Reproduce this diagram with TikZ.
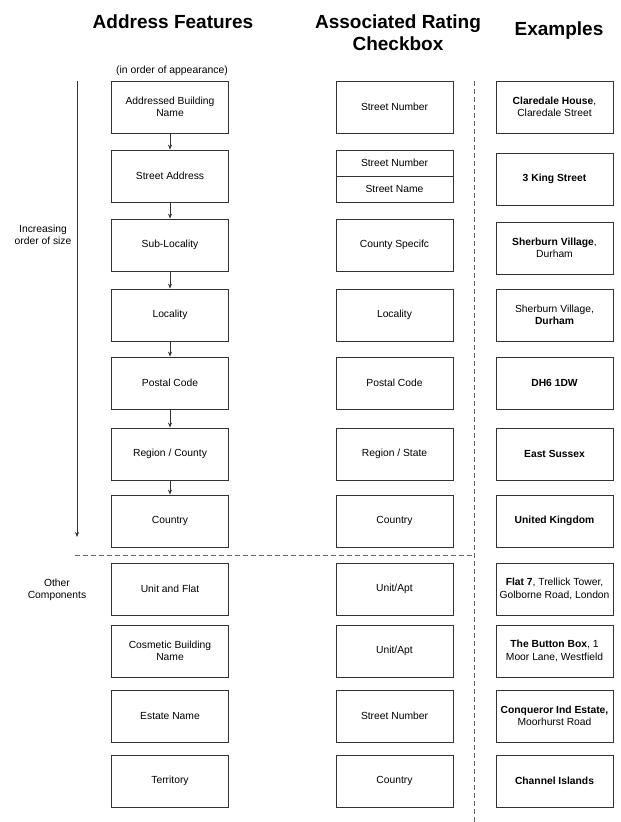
\documentclass[tikz,border=0pt]{standalone}
\usepackage{fontspec}
\setmainfont{Liberation Sans}
\usetikzlibrary{arrows.meta}
\definecolor{ln}{HTML}{333333}
\tikzset{
  fbox/.style={draw=ln, line width=0.8pt, minimum width=117pt, minimum height=52pt, align=center, font=\fontsize{10.3}{12.5}\selectfont, inner sep=2pt},
  ttl/.style={font=\fontsize{19}{22}\selectfont\bfseries, align=center},
  lbl/.style={font=\fontsize{10.3}{12.5}\selectfont, align=center},
  flow/.style={draw=ln, line width=0.7pt, -{Stealth[length=5pt,width=4pt]}},
  sep/.style={draw=gray!80!black, line width=0.8pt, dash pattern=on 5pt off 3pt}
}
\begin{document}
\begin{tikzpicture}[x=1pt,y=-1pt]
\useasboundingbox (0,0) rectangle (621,822);
% titles
\node[ttl] (t1) at (173,22) {Address Features};
\node[ttl] (t2) at (398,33) {Associated Rating\\Checkbox};
\node[ttl] (t3) at (559,31) {Examples};
\node[font=\fontsize{10.4}{12}\selectfont] (sub) at (172,71) {(in order of appearance)};
% side labels
\node[lbl] (inc) at (43,235) {Increasing\\order of size};
\node[lbl] (oth) at (57,590) {Other\\Components};
% left column
\node[fbox] (a1) at (170,107) {Addressed Building\\Name};
\node[fbox] (a2) at (170,176) {Street Address};
\node[fbox] (a3) at (170,245) {Sub-Locality};
\node[fbox] (a4) at (170,315) {Locality};
\node[fbox] (a5) at (170,383) {Postal Code};
\node[fbox] (a6) at (170,454) {Region / County};
\node[fbox] (a7) at (170,521) {Country};
\node[fbox] (a8) at (170,589) {Unit and Flat};
\node[fbox] (a9) at (170,651) {Cosmetic Building\\Name};
\node[fbox] (a10) at (170,716) {Estate Name};
\node[fbox] (a11) at (170,781) {Territory};
\foreach \i/\j in {a1/a2,a2/a3,a3/a4,a4/a5,a5/a6,a6/a7}
  \draw[flow] (\i.south) -- (\j.north);
% middle column
\node[fbox] (b1) at (394.5,107) {Street Number};
\node[fbox, minimum height=26pt] (b2a) at (394.5,163) {Street Number};
\node[fbox, minimum height=26pt] (b2b) at (394.5,189) {Street Name};
\node[fbox] (b3) at (394.5,245) {County Specifc};
\node[fbox] (b4) at (394.5,315) {Locality};
\node[fbox] (b5) at (394.5,383) {Postal Code};
\node[fbox] (b6) at (394.5,454) {Region / State};
\node[fbox] (b7) at (394.5,521) {Country};
\node[fbox] (b8) at (394.5,589) {Unit/Apt};
\node[fbox] (b9) at (394.5,651) {Unit/Apt};
\node[fbox] (b10) at (394.5,716) {Street Number};
\node[fbox] (b11) at (394.5,781) {Country};
% examples column
\node[fbox] (c1) at (554.5,107) {\textbf{Claredale House}, \\Claredale Street};
\node[fbox] (c2) at (554.5,179) {\textbf{3 King Street}};
\node[fbox] (c3) at (554.5,248) {\textbf{Sherburn Village},\\Durham};
\node[fbox] (c4) at (554.5,315) {Sherburn Village,\\\textbf{Durham}};
\node[fbox] (c5) at (554.5,383) {\textbf{DH6 1DW}};
\node[fbox] (c6) at (554.5,454) {\textbf{East Sussex}};
\node[fbox] (c7) at (554.5,521) {\textbf{United Kingdom}};
\node[fbox] (c8) at (554.5,589) {\textbf{Flat 7}, Trellick Tower,\\Golborne Road, London};
\node[fbox] (c9) at (554.5,651) {\textbf{The Button Box}, 1\\Moor Lane, Westfield};
\node[fbox] (c10) at (554.5,716) {\textbf{Conqueror Ind Estate,}\\Moorhurst Road};
\node[fbox] (c11) at (554.5,781) {\textbf{Channel Islands}};
% order arrow
\coordinate (o1) at (77,81);
\coordinate (o2) at (77,537);
\draw[flow] (o1) -- (o2);
% separators
\coordinate (s1) at (75,555);
\coordinate (s2) at (474,555);
\coordinate (s3) at (474,81);
\coordinate (s4) at (474,822);
\draw[sep] (s1) -- (s2);
\draw[sep] (s3) -- (s4);
\end{tikzpicture}
\end{document}
